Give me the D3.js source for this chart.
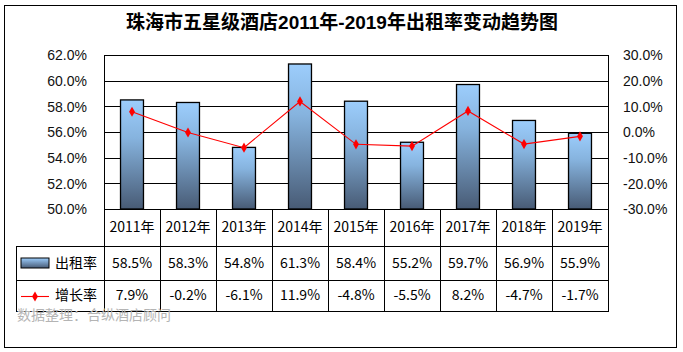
<!DOCTYPE html>
<html><head><meta charset="utf-8">
<script src="https://cdn.jsdelivr.net/npm/d3@7"></script>
<style>
html,body{margin:0;padding:0;background:#fff;}
svg{display:block;}
</style></head>
<body>
<svg id="chart" width="683" height="352"></svg>
<script>
const title = "珠海市五星级酒店2011年-2019年出租率变动趋势图";
const years = ["2011年","2012年","2013年","2014年","2015年","2016年","2017年","2018年","2019年"];
const occupancy = [58.5,58.3,54.8,61.3,58.4,55.2,59.7,56.9,55.9];
const growth = [7.9,-0.2,-6.1,11.9,-4.8,-5.5,8.2,-4.7,-1.7];
const leftTicks = [50,52,54,56,58,60,62];
const rightTicks = [-30,-20,-10,0,10,20,30];
const seriesNames = ["出租率","增长率"];
const source = "数据整理：合纵酒店顾问";

const svg = d3.select("#chart");
const L = 104, R = 608, T = 55, B = 209;
const rowY = [209, 246, 280, 311];
const tableLeft = 16;
const fontCJK = "'Noto Sans CJK SC','Noto Sans',sans-serif";
const fontLatin = "'Liberation Sans',Arial,sans-serif";

const x = d3.scaleBand().domain(years).range([L, R]).padding(0);
const yL = d3.scaleLinear().domain([50, 62]).range([B, T]);
const yR = d3.scaleLinear().domain([-30, 30]).range([B, T]);

// gradient
const defs = svg.append("defs");
const grad = defs.append("linearGradient").attr("id","barGrad")
  .attr("x1","0").attr("y1","0").attr("x2","0").attr("y2","1");
grad.append("stop").attr("offset","0%").attr("stop-color","#9ccdfc");
grad.append("stop").attr("offset","35%").attr("stop-color","#86b3de");
grad.append("stop").attr("offset","100%").attr("stop-color","#485b75");
const gradH = defs.append("linearGradient").attr("id","legGrad")
  .attr("x1","0").attr("y1","0").attr("x2","0").attr("y2","1");
gradH.append("stop").attr("offset","0%").attr("stop-color","#9ccdfc");
gradH.append("stop").attr("offset","100%").attr("stop-color","#485b75");

// outer border
svg.append("rect").attr("x",4.5).attr("y",5.5).attr("width",672).attr("height",342)
  .attr("fill","#fff").attr("stroke","#000").attr("stroke-width",1);

// title
svg.append("text").attr("x",342).attr("y",29).attr("text-anchor","middle")
  .attr("font-family", fontLatin + "," + fontCJK).attr("font-weight","bold")
  .attr("font-size",19).attr("fill","#000").text(title);

// gridlines
svg.append("g").selectAll("line").data(leftTicks).join("line")
  .attr("x1",L).attr("x2",R)
  .attr("y1",d=>Math.round(yL(d))+0.5).attr("y2",d=>Math.round(yL(d))+0.5)
  .attr("stroke","#000").attr("stroke-width",1);
// plot sides
svg.append("line").attr("x1",L+0.5).attr("x2",L+0.5).attr("y1",T).attr("y2",rowY[3]).attr("stroke","#000");
svg.append("line").attr("x1",R+0.5).attr("x2",R+0.5).attr("y1",T).attr("y2",rowY[3]).attr("stroke","#000");

// left axis
const axL = svg.append("g").attr("transform",`translate(${L-14},0)`)
  .call(d3.axisLeft(yL).tickValues(leftTicks).tickSize(0).tickFormat(d=>d.toFixed(1)+"%"));
axL.select(".domain").remove();
axL.selectAll("text").attr("font-family",fontLatin).attr("font-size",14).attr("fill","#111").attr("dy","0.35em");

// right axis
const axR = svg.append("g").attr("transform",`translate(${R+12},0)`)
  .call(d3.axisRight(yR).tickValues(rightTicks).tickSize(0).tickFormat(d=>d.toFixed(1)+"%"));
axR.select(".domain").remove();
axR.selectAll("text").attr("font-family",fontLatin).attr("font-size",14).attr("fill","#111").attr("dy","0.35em");

// bars
const bw = x.bandwidth()*0.41;
svg.append("g").selectAll("rect").data(years).join("rect")
  .attr("x",(d)=>x(d)+x.bandwidth()/2-bw/2)
  .attr("y",(d,i)=>yL(occupancy[i]))
  .attr("width",bw)
  .attr("height",(d,i)=>yL(50)-yL(occupancy[i]))
  .attr("fill","url(#barGrad)").attr("stroke","#000").attr("stroke-width",1.3);

// line
const line = d3.line().x((d,i)=>x(years[i])+x.bandwidth()/2).y(d=>yR(d));
svg.append("path").datum(growth).attr("d",line).attr("fill","none").attr("stroke","#ff0000").attr("stroke-width",1.1);
const diamond = d3.symbol().type(d3.symbolDiamond).size(30);
svg.append("g").selectAll("path").data(growth).join("path")
  .attr("transform",(d,i)=>`translate(${x(years[i])+x.bandwidth()/2},${yR(d)})`)
  .attr("d",diamond).attr("fill","#ff0000");

// table
const tg = svg.append("g");
[1,2,3].forEach(k=>{
  tg.append("line").attr("x1",tableLeft).attr("x2",R+1).attr("y1",rowY[k]+0.5).attr("y2",rowY[k]+0.5).attr("stroke","#000");
});
tg.append("line").attr("x1",tableLeft+0.5).attr("x2",tableLeft+0.5).attr("y1",rowY[1]).attr("y2",rowY[3]+1).attr("stroke","#000");
const bounds = years.map(d=>x(d)).slice(1);
tg.selectAll(".vl").data(bounds).join("line").attr("class","vl")
  .attr("x1",d=>Math.round(d)+0.5).attr("x2",d=>Math.round(d)+0.5)
  .attr("y1",rowY[0]).attr("y2",rowY[3]).attr("stroke","#000");

// category labels
tg.selectAll(".cat").data(years).join("text").attr("class","cat")
  .attr("x",d=>x(d)+x.bandwidth()/2).attr("y",(rowY[0]+rowY[1])/2).attr("dy","0.35em")
  .attr("text-anchor","middle").attr("font-family",fontCJK).attr("font-size",14).attr("fill","#000").text(d=>d);
tg.selectAll(".v1").data(occupancy).join("text").attr("class","v1")
  .attr("x",(d,i)=>x(years[i])+x.bandwidth()/2).attr("y",(rowY[1]+rowY[2])/2).attr("dy","0.35em")
  .attr("text-anchor","middle").attr("font-family",fontCJK).attr("font-size",14).attr("fill","#000").text(d=>d.toFixed(1)+"%");
tg.selectAll(".v2").data(growth).join("text").attr("class","v2")
  .attr("x",(d,i)=>x(years[i])+x.bandwidth()/2).attr("y",(rowY[2]+rowY[3])/2).attr("dy","0.35em")
  .attr("text-anchor","middle").attr("font-family",fontCJK).attr("font-size",14).attr("fill","#000").text(d=>d.toFixed(1)+"%");

// legend keys
tg.append("rect").attr("x",21).attr("y",258).attr("width",28).attr("height",10)
  .attr("fill","url(#legGrad)").attr("stroke","#000").attr("stroke-width",1);
tg.append("line").attr("x1",21).attr("x2",49).attr("y1",296.5).attr("y2",296.5).attr("stroke","#ff0000").attr("stroke-width",1.1);
tg.append("path").attr("transform","translate(35,296.5)").attr("d",diamond).attr("fill","#ff0000");
tg.selectAll(".leg").data(seriesNames).join("text").attr("class","leg")
  .attr("x",55).attr("y",(d,i)=>i===0?(rowY[1]+rowY[2])/2:(rowY[2]+rowY[3])/2).attr("dy","0.35em")
  .attr("font-family",fontCJK).attr("font-size",14).attr("fill","#000").text(d=>d);

// source
svg.append("text").attr("x",17).attr("y",320).attr("font-family",fontCJK).attr("font-size",14)
  .attr("fill","#b4b4b4").text(source);
</script>
</body></html>
